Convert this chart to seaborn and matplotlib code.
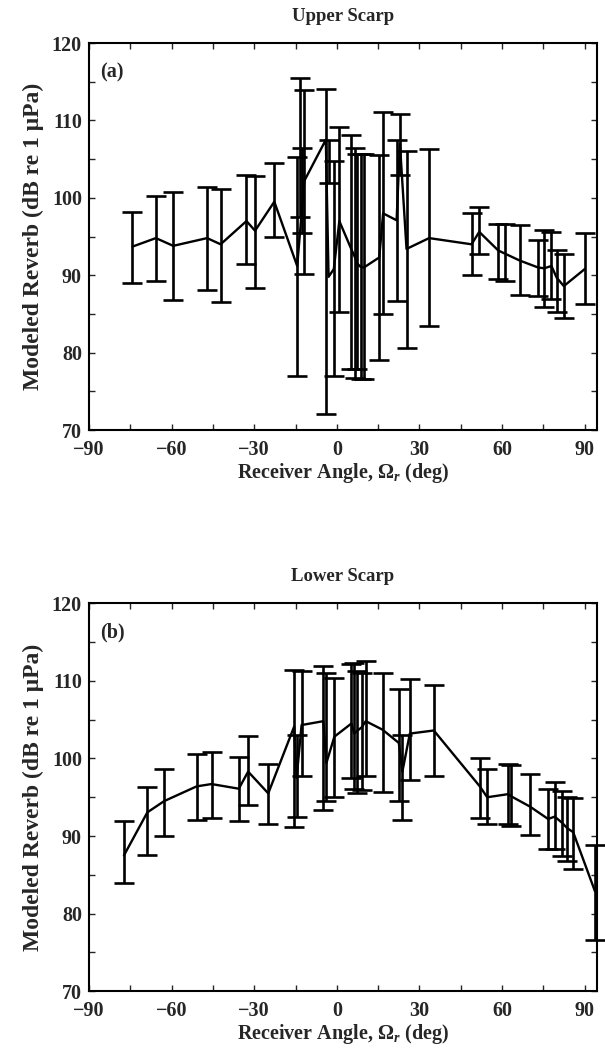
import numpy as np
import pandas as pd
import matplotlib
matplotlib.use("Agg")
import matplotlib.pyplot as plt
from matplotlib.ticker import MultipleLocator
import seaborn as sns

# ---------------- data: Upper Scarp (a) ----------------
upper_angle = [-74.2, -65.7, -59.4, -47.1, -42.2, -32.8, -29.7, -22.7, -14.4, -13.4,
               -12.8, -11.8, -4.0, -3.0, -1.1, 0.9, 5.1, 6.6, 7.4, 8.6,
               9.8, 15.4, 16.8, 21.7, 22.9, 25.3, 33.5, 48.9, 51.7, 58.6,
               61.0, 66.4, 73.1, 75.3, 77.9, 79.8, 82.4, 90.0]
upper_level = [93.7, 94.8, 93.8, 94.8, 94.0, 97.0, 95.75, 99.5, 91.2, 95.4,
               98.0, 102.2, 107.5, 89.8, 90.8, 97.0, 93.5, 92.3, 91.5, 91.1,
               91.0, 92.3, 98.0, 97.1, 107.0, 93.4, 94.8, 94.0, 95.6, 93.2,
               92.8, 91.9, 91.0, 90.9, 91.2, 89.7, 88.6, 90.8]
upper_low = [89.0, 89.2, 86.8, 88.1, 86.6, 91.4, 88.4, 94.9, 77.0, 97.5,
             95.5, 90.2, 72.1, 101.9, 77.0, 85.2, 77.9, 76.7, 77.9, 76.6,
             76.6, 79.1, 85.0, 86.7, 102.9, 80.6, 83.4, 90.0, 92.7, 89.5,
             89.2, 87.4, 87.3, 85.9, 86.9, 85.2, 84.5, 86.3]
upper_high = [98.2, 100.3, 100.8, 101.4, 101.2, 103.0, 102.8, 104.5, 105.3, 115.5,
              106.5, 113.9, 114.0, 107.5, 104.7, 109.1, 108.1, 106.4, 105.7, 105.7,
              105.7, 105.5, 111.1, 107.5, 110.8, 106.1, 106.3, 98.0, 98.8, 96.6,
              96.6, 96.5, 94.6, 95.9, 95.6, 93.2, 92.7, 95.5]

# ---------------- data: Lower Scarp (b) ----------------
lower_angle = [-77.3, -68.8, -62.7, -50.9, -45.5, -35.6, -32.2, -24.9, -15.5, -14.6,
               -12.8, -4.9, -3.8, -0.9, 5.3, 6.3, 7.2, 9.0, 10.5, 16.6,
               22.5, 23.8, 26.5, 35.2, 51.9, 54.6, 62.2, 63.4, 70.1, 76.7,
               79.1, 81.8, 83.7, 85.8, 93.7]
lower_level = [87.5, 93.05, 94.5, 96.4, 96.7, 96.1, 98.3, 95.5, 104.1, 97.5,
               104.3, 104.8, 99.4, 102.8, 104.5, 103.2, 103.5, 104.0, 104.8, 103.7,
               102.0, 98.3, 103.2, 103.6, 96.4, 95.0, 95.4, 95.1, 93.8, 92.2,
               92.5, 91.7, 91.0, 90.5, 82.9]
lower_low = [83.9, 87.5, 90.05, 92.1, 92.3, 92.0, 94.0, 91.5, 91.2, 92.5,
             97.7, 93.3, 94.5, 95.0, 97.5, 96.0, 95.5, 95.9, 97.8, 95.7,
             94.5, 92.1, 97.2, 97.7, 92.3, 91.5, 91.5, 91.3, 90.2, 88.3,
             88.3, 87.4, 86.75, 85.8, 76.6]
lower_high = [92.0, 96.3, 98.7, 100.6, 100.8, 100.2, 102.9, 99.3, 111.4, 103.0,
              111.3, 111.9, 111.0, 110.4, 112.2, 112.3, 111.2, 111.0, 112.5, 111.0,
              108.9, 103.0, 110.2, 109.5, 100.1, 98.7, 99.3, 99.2, 98.0, 96.0,
              96.9, 95.75, 95.0, 94.9, 88.9]

titles = ["Upper Scarp", "Lower Scarp"]
panel_tags = ["(a)", "(b)"]
x_ticks = [-90, -60, -30, 0, 30, 60, 90]
y_ticks = [70, 80, 90, 100, 110, 120]

sns.set_style("ticks")
plt.rcParams['font.family'] = ['Liberation Serif', 'DejaVu Serif']
plt.rcParams['font.weight'] = 'bold'
plt.rcParams['mathtext.fontset'] = 'custom'
plt.rcParams['mathtext.rm'] = 'Liberation Serif:bold'
plt.rcParams['mathtext.it'] = 'Liberation Serif:italic:bold'
plt.rcParams['mathtext.bf'] = 'Liberation Serif:bold'

fig = plt.figure(figsize=(6.05, 10.49), dpi=100)
ax_top = fig.add_axes([0.147, 0.590, 0.840, 0.369])
ax_bot = fig.add_axes([0.147, 0.055, 0.840, 0.370])

panels = [
    (ax_top, upper_angle, upper_level, upper_low, upper_high),
    (ax_bot, lower_angle, lower_level, lower_low, lower_high),
]

for i, (ax, ang, lev, lo, hi) in enumerate(panels):
    df = pd.DataFrame({"angle": ang, "level": lev, "low": lo, "high": hi})
    mid = (df["low"] + df["high"]) / 2.0
    half = (df["high"] - df["low"]) / 2.0
    eb = ax.errorbar(df["angle"], mid, yerr=half, fmt='none', ecolor='black',
                     elinewidth=1.9, capsize=7, capthick=1.9, zorder=2)
    for art in eb.get_children():
        art.set_clip_on(False)
    sns.lineplot(data=df, x="angle", y="level", ax=ax, color='black',
                 linewidth=1.7, estimator=None, sort=False, zorder=3)
    ax.set_xlim(-90, 94.5)
    ax.set_ylim(70, 120)
    ax.set_xticks(x_ticks)
    ax.set_yticks(y_ticks)
    ax.xaxis.set_minor_locator(MultipleLocator(15))
    ax.yaxis.set_minor_locator(MultipleLocator(5))
    ax.set_xticklabels([("\u2212%d" % -t) if t < 0 else str(t) for t in x_ticks])
    ax.tick_params(which='both', direction='in', top=True, right=True,
                   length=4, width=1.0, labelsize=14.5, pad=5)
    ax.tick_params(axis='x', which='major', pad=7)
    for sp in ax.spines.values():
        sp.set_linewidth(1.5)
        sp.set_color('black')
    ax.set_xlabel("Receiver Angle, \u03a9$_r$ (deg)", fontsize=14.5,
                  fontweight='bold', labelpad=1)
    ax.set_ylabel("Modeled Reverb (dB re 1 \u03bcPa)", fontsize=17,
                  fontweight='bold', labelpad=6)
    ax.set_title(titles[i], fontsize=13.5, fontweight='bold', pad=16)
    ax.text(0.022, 0.925, panel_tags[i], transform=ax.transAxes,
            fontsize=14.5, fontweight='bold', ha='left', va='center')

fig.savefig("out.png", dpi=100)
